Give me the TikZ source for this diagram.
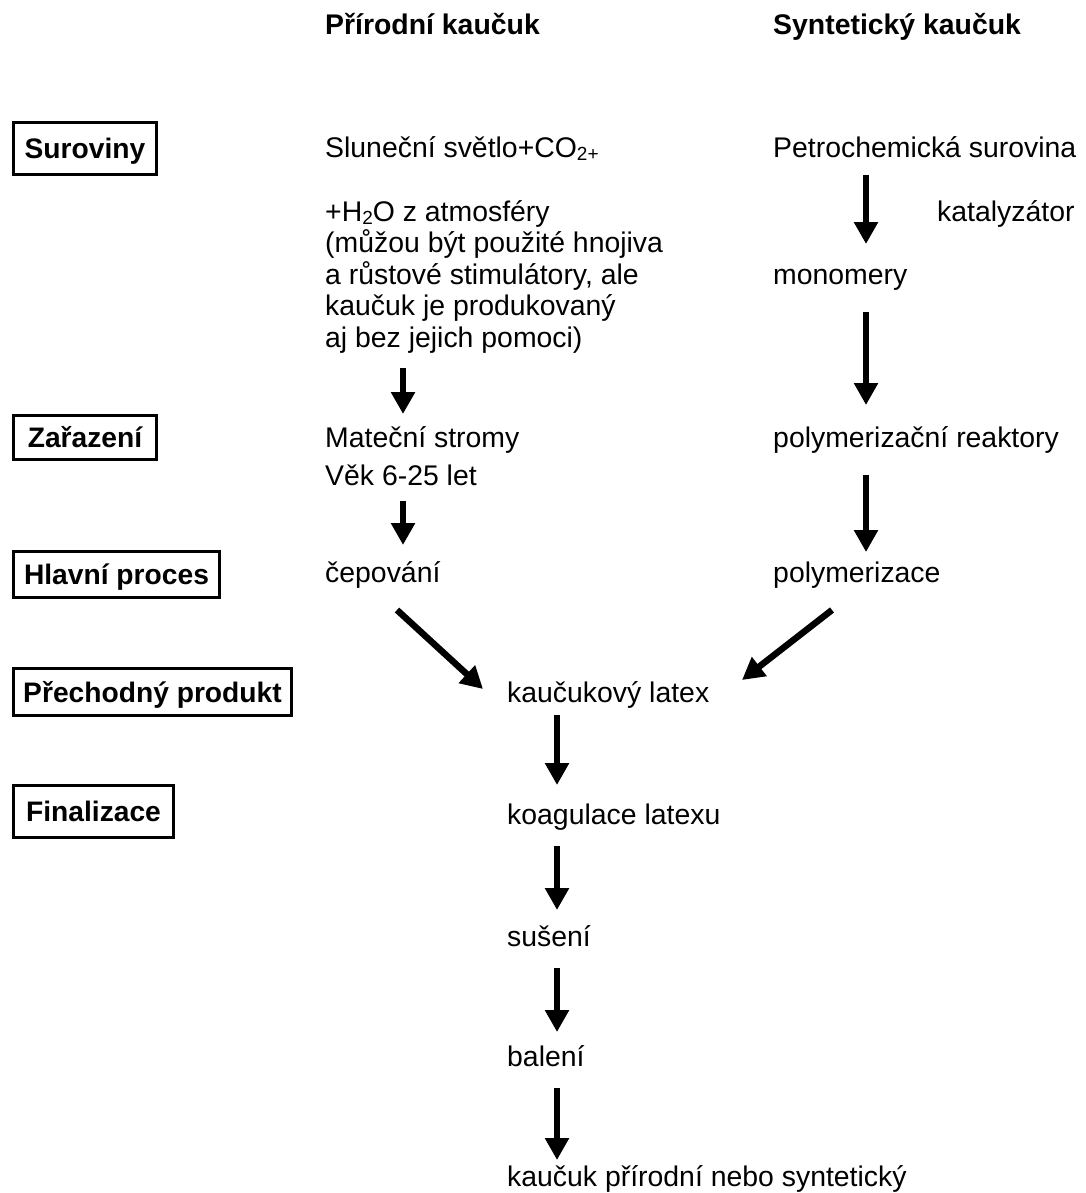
\documentclass[tikz,border=0pt]{standalone}
\usepackage{fontspec}
\setmainfont{Liberation Sans}
\usetikzlibrary{arrows.meta}
\newcommand{\smallsub}[1]{{\fontsize{19}{19}\selectfont\raisebox{-3pt}{#1}}}
\begin{document}
\begin{tikzpicture}[x=1pt,y=-1pt,
  txt/.style={anchor=base west, inner sep=0pt, font=\fontsize{28.4}{32}\selectfont},
  hdr/.style={anchor=base west, inner sep=0pt, font=\fontsize{28.4}{32}\selectfont\bfseries},
  catbox/.style={draw, line width=3pt, inner sep=0pt, text height=20pt, text depth=0pt, font=\fontsize{28.2}{32}\selectfont\bfseries},
  flow/.style={line width=6.5pt, -{Triangle[width=23pt,length=22pt]}}]
\useasboundingbox (0,0) rectangle (1086,1193);

% headers
\node[hdr] (hnat) at (325,35) {Přírodní kaučuk};
\node[hdr] (hsyn) at (773,35) {Syntetický kaučuk};

% category boxes
\node[catbox, minimum width=143pt, minimum height=52pt] (suroviny) at (85,148.5) {Suroviny};
\node[catbox, minimum width=143pt, minimum height=44pt] (zarazeni) at (85,437.5) {Zařazení};
\node[catbox, minimum width=206pt, minimum height=46pt] (hlavni) at (116.5,574.5) {Hlavní proces};
\node[catbox, minimum width=278pt, minimum height=47pt] (prechod) at (152.5,692) {Přechodný produkt};
\node[catbox, minimum width=160pt, minimum height=52pt] (final) at (93.5,811.5) {Finalizace};

% natural column
\node[txt] (slun) at (325,158) {Sluneční světlo+CO\smallsub{2+}};
\node[txt] (h2o) at (325,221) {+H\smallsub{2}O z atmosféry};
\node[txt] (l2) at (325,252.5) {(můžou být použité hnojiva};
\node[txt] (l3) at (325,284) {a růstové stimulátory, ale};
\node[txt] (l4) at (325,315.5) {kaučuk je produkovaný};
\node[txt] (l5) at (325,347) {aj bez jejich pomoci)};
\node[txt] (matec) at (325,447) {Mateční stromy};
\node[txt] (vek) at (325,485) {Věk 6-25 let};
\node[txt] (cep) at (325,582) {čepování};

% synthetic column
\node[txt] (petro) at (773,158) {Petrochemická surovina};
\node[txt] (kat) at (937,222) {katalyzátor};
\node[txt] (mono) at (773,284) {monomery};
\node[txt] (reakt) at (773,447) {polymerizační reaktory};
\node[txt] (polym) at (773,582) {polymerizace};

% common column
\node[txt] (latex) at (507,702) {kaučukový latex};
\node[txt] (koag) at (507,824) {koagulace latexu};
\node[txt] (suseni) at (507,946) {sušení};
\node[txt] (baleni) at (507,1066) {balení};
\node[txt] (kaucuk) at (507,1186) {kaučuk přírodní nebo syntetický};

% arrow end points
\coordinate (a1s) at (403,368);  \coordinate (a1e) at (403,414);
\coordinate (a2s) at (403,501);  \coordinate (a2e) at (403,545);
\coordinate (b1s) at (866,175);  \coordinate (b1e) at (866,244);
\coordinate (b2s) at (866,312);  \coordinate (b2e) at (866,405);
\coordinate (b3s) at (866,475);  \coordinate (b3e) at (866,552);
\coordinate (d1s) at (397,610);  \coordinate (d1e) at (483,689);
\coordinate (d2s) at (832,610);  \coordinate (d2e) at (742,680);
\coordinate (c1s) at (557,715);  \coordinate (c1e) at (557,785);
\coordinate (c2s) at (557,846);  \coordinate (c2e) at (557,910);
\coordinate (c3s) at (557,968);  \coordinate (c3e) at (557,1032);
\coordinate (c4s) at (557,1088); \coordinate (c4e) at (557,1160);

\draw[flow] (a1s) -- (a1e);
\draw[flow] (a2s) -- (a2e);
\draw[flow] (b1s) -- (b1e);
\draw[flow] (b2s) -- (b2e);
\draw[flow] (b3s) -- (b3e);
\draw[flow] (d1s) -- (d1e);
\draw[flow] (d2s) -- (d2e);
\draw[flow] (c1s) -- (c1e);
\draw[flow] (c2s) -- (c2e);
\draw[flow] (c3s) -- (c3e);
\draw[flow] (c4s) -- (c4e);
\end{tikzpicture}
\end{document}
